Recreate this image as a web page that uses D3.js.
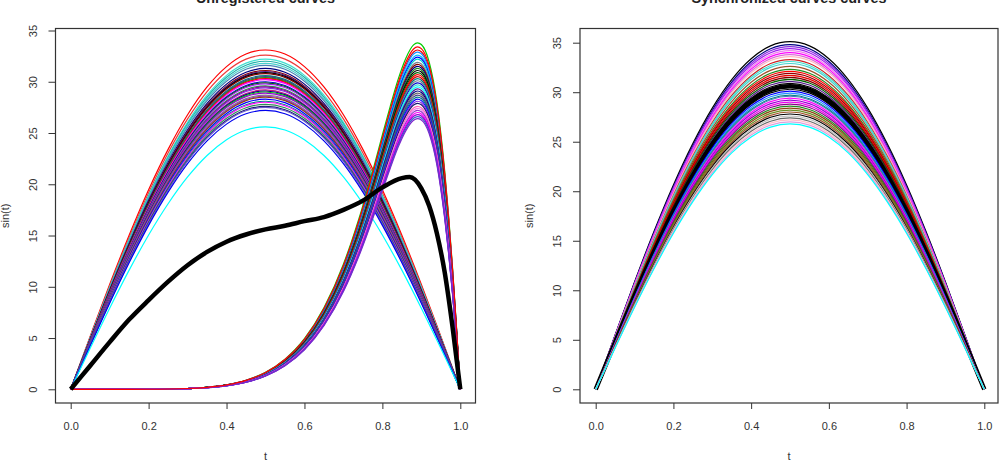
<!DOCTYPE html>
<html>
<head>
<meta charset="utf-8">
<script src="https://cdn.jsdelivr.net/npm/d3@7"></script>
<style>
  body { margin: 0; background: #fff; }
  text { font-family: "Liberation Sans", Arial, sans-serif; }
</style>
</head>
<body>
<div id="chart"></div>
<script>
// grid of t values and the normalised curve shapes
const tGrid = [0, 0.05, 0.1, 0.15, 0.2, 0.25, 0.3, 0.35, 0.4, 0.45, 0.5,
               0.55, 0.6, 0.65, 0.7, 0.75, 0.8, 0.85, 0.9, 0.95, 1];
const humpShape = [0, 0.156, 0.309, 0.454, 0.588, 0.707, 0.809, 0.891, 0.951, 0.988, 1,
                   0.988, 0.951, 0.891, 0.809, 0.707, 0.588, 0.454, 0.309, 0.156, 0];

// warped curves (peak near t = 0.89)
const tWarp = [0, 0.1, 0.2, 0.3, 0.35, 0.4, 0.45, 0.5, 0.55, 0.6, 0.65, 0.7, 0.72, 0.74,
               0.76, 0.78, 0.8, 0.82, 0.84, 0.86, 0.88, 0.89, 0.9, 0.92, 0.94, 0.96,
               0.97, 0.98, 0.99, 1];
const warpShape = [0, 0, 0.0002, 0.0023, 0.0058, 0.0129, 0.0261, 0.049, 0.087, 0.146,
                   0.235, 0.361, 0.424, 0.493, 0.569, 0.65, 0.734, 0.816, 0.893, 0.955,
                   0.994, 1, 0.995, 0.945, 0.828, 0.63, 0.501, 0.352, 0.183, 0];

// left panel: peak heights of the unwarped curves
const ampUnwarped = [33.1, 32.6, 32.2, 32.0, 31.8, 31.6, 31.3, 31.1, 31.0, 30.9, 30.8, 30.6,
                     30.5, 30.4, 30.3, 30.2, 30.0, 29.9, 29.8, 29.6, 29.5, 29.4, 29.2, 29.1,
                     29.0, 28.9, 28.7, 28.6, 28.5, 28.3, 28.1, 28.0, 27.8, 27.6, 27.5, 27.2, 25.6];
const colUnwarped = ["#FF0000", "#EE3B3B", "#40E0D0", "#20B2AA", "#48D1CC", "#4682B4", "#000080",
                     "#8B0000", "#551A8B", "#000000", "#800000", "#008080", "#483D8B", "#228B22",
                     "#FF0000", "#FF00FF", "#0000CD", "#006400", "#A020F0", "#2E8B57", "#8B008B",
                     "#8A2BE2", "#C71585", "#000080", "#00CD00", "#9400D3", "#808080", "#9932CC",
                     "#8B4513", "#0000FF", "#008B8B", "#FF00FF", "#2E8B57", "#191970", "#6A5ACD",
                     "#0000EE", "#00FFFF"];

// left panel: peak heights of the warped curves
const ampWarped = [33.8, 33.1, 32.9, 32.6, 32.4, 32.2, 31.9, 31.7, 31.5, 31.3, 31.1, 30.9,
                   30.7, 30.5, 30.3, 30.1, 29.9, 29.7, 29.5, 29.3, 29.1, 28.9, 28.7, 28.5,
                   28.3, 28.1, 27.9, 27.6, 27.4, 27.2, 27.0, 26.8, 26.6, 26.4, 33.4];
const colWarped = ["#00CD00", "#EE0000", "#1E90FF", "#00BFFF", "#0000FF", "#00CED1", "#708090",
                   "#8B0000", "#000080", "#228B22", "#000000", "#006400", "#FF0000", "#CD0000",
                   "#008080", "#708090", "#0000CD", "#40E0D0", "#00FFFF", "#551A8B", "#000080",
                   "#696969", "#483D8B", "#008080", "#0000FF", "#8A2BE2", "#191970", "#FF69B4",
                   "#EE82EE", "#9932CC", "#FF00FF", "#9400D3", "#3A5FCD", "#7D26CD", "#FF0000"];

// left panel: cross-sectional mean (thick black)
const meanT = [0, 0.05, 0.1, 0.15, 0.2, 0.25, 0.3, 0.35, 0.4, 0.45, 0.5, 0.55, 0.6, 0.65,
               0.7, 0.75, 0.8, 0.85, 0.87, 0.9, 0.92, 0.94, 0.96, 0.98, 1];
const meanV = [0, 2.3, 4.6, 6.8, 8.7, 10.5, 12.1, 13.4, 14.4, 15.1, 15.6, 15.95, 16.4, 16.8,
               17.5, 18.4, 19.7, 20.6, 20.7, 19.6, 17.9, 15.2, 11.4, 6.1, 0];

// right panel: peak heights of the synchronized curves
const ampSync = [35.1, 34.8, 34.6, 34.4, 34.2, 34.0, 33.8, 33.6, 33.3, 33.1, 32.9, 32.6,
                 32.3, 32.1, 31.9, 31.7, 31.5, 31.3, 31.1, 30.9, 30.7, 30.5, 30.3, 30.1,
                 29.9, 29.7, 29.6, 29.4, 29.2, 29.0, 28.8, 28.6, 28.4, 28.2, 28.0, 27.8,
                 27.6, 27.4, 27.2, 27.0, 26.8];
const colSync = ["#000000", "#000080", "#8A2BE2", "#A020F0", "#EE82EE", "#FF00FF", "#DA70D6",
                 "#FFB6C1", "#CD2626", "#40E0D0", "#48D1CC", "#A0522D", "#228B22", "#FF0000",
                 "#8B0000", "#EE0000", "#800000", "#006400", "#551A8B", "#000000", "#000000",
                 "#000080", "#000000", "#0000FF", "#1E90FF", "#008080", "#4682B4", "#FF00FF",
                 "#9400D3", "#EE00EE", "#8B008B", "#228B22", "#8B4513", "#6B8E23", "#A0522D",
                 "#000000", "#BEBEBE", "#696969", "#FFC0CB", "#DDA0DD", "#00FFFF"];
const ampSyncMean = 30.6;

const xTicks = [0, 0.2, 0.4, 0.6, 0.8, 1.0];
const yTicks = [0, 5, 10, 15, 20, 25, 30, 35];

const svg = d3.select("#chart").append("svg")
  .attr("width", 1000).attr("height", 462);

function panel(p) {
  const x = d3.scaleLinear().domain([0, 1]).range(p.xr);
  const y = d3.scaleLinear().domain([0, 35]).range(p.yr);
  const g = svg.append("g");

  const line = d3.line()
    .x(d => x(d[0])).y(d => y(d[1]))
    .curve(d3.curveMonotoneX);

  // curves
  const plot = g.append("g").attr("fill", "none");
  p.curves.forEach(c => {
    plot.append("path")
      .attr("d", line(c.pts))
      .attr("stroke", c.col)
      .attr("stroke-width", c.w || 1.2);
  });

  // box
  g.append("rect")
    .attr("x", p.box[0]).attr("y", p.box[1])
    .attr("width", p.box[2] - p.box[0]).attr("height", p.box[3] - p.box[1])
    .attr("fill", "none").attr("stroke", "#333").attr("stroke-width", 1.2);

  // axes
  const ax = g.append("g")
    .attr("transform", `translate(0,${p.box[3]})`)
    .call(d3.axisBottom(x).tickValues(xTicks).tickFormat(d3.format(".1f")).tickSize(6).tickSizeOuter(0).tickPadding(13));
  ax.select(".domain").remove();
  ax.selectAll("line").attr("stroke", "#333");
  ax.selectAll("text").attr("font-size", 11).attr("fill", "#333")
    .attr("font-family", "Liberation Sans, Arial, sans-serif");

  const ay = g.append("g")
    .attr("transform", `translate(${p.box[0]},0)`)
    .call(d3.axisLeft(y).tickValues(yTicks).tickSize(7).tickSizeOuter(0));
  ay.select(".domain").remove();
  ay.selectAll("line").attr("stroke", "#333");
  ay.selectAll("text").remove();
  ay.selectAll(".tick").append("text")
    .attr("transform", `translate(${p.ylabX - p.box[0]},0) rotate(-90)`)
    .attr("text-anchor", "middle")
    .attr("font-size", 11).attr("fill", "#333")
    .text(d => d);

  // titles
  const cx = (p.box[0] + p.box[2]) / 2;
  g.append("text").attr("x", cx).attr("y", 3)
    .attr("text-anchor", "middle").attr("font-size", 14.4).attr("font-weight", "bold")
    .attr("fill", "#222").text(p.title);
  g.append("text").attr("x", cx).attr("y", 460)
    .attr("text-anchor", "middle").attr("font-size", 11).attr("fill", "#333").text("t");
  g.append("text")
    .attr("transform", `translate(${p.ytitleX},${(p.box[1] + p.box[3]) / 2}) rotate(-90)`)
    .attr("text-anchor", "middle").attr("font-size", 11).attr("fill", "#333").text("sin(t)");
}

const humpPts = a => tGrid.map((t, i) => [t, a * humpShape[i]]);
const warpPts = a => tWarp.map((t, i) => [t, a * warpShape[i]]);

const leftCurves = [];
ampUnwarped.forEach((a, i) => leftCurves.push({ pts: humpPts(a), col: colUnwarped[i] }));
ampWarped.forEach((a, i) => leftCurves.push({ pts: warpPts(a), col: colWarped[i] }));
leftCurves.push({ pts: meanT.map((t, i) => [t, meanV[i]]), col: "#000", w: 4.5 });

const rightCurves = ampSync.map((a, i) => ({ pts: humpPts(a), col: colSync[i] }));
rightCurves.splice(22, 0, { pts: humpPts(ampSyncMean), col: "#000", w: 4.5 });

panel({
  title: "Unregistered curves",
  xr: [70.7, 460.3], yr: [389.3, 30.5],
  box: [55.5, 28.5, 475.5, 403],
  ylabX: 37, ytitleX: 9,
  curves: leftCurves
});

panel({
  title: "Synchronized curves curves",
  xr: [595.7, 984.3], yr: [389.3, 42.7],
  box: [580, 28.5, 998, 403],
  ylabX: 561, ytitleX: 533,
  curves: rightCurves
});
</script>
</body>
</html>
